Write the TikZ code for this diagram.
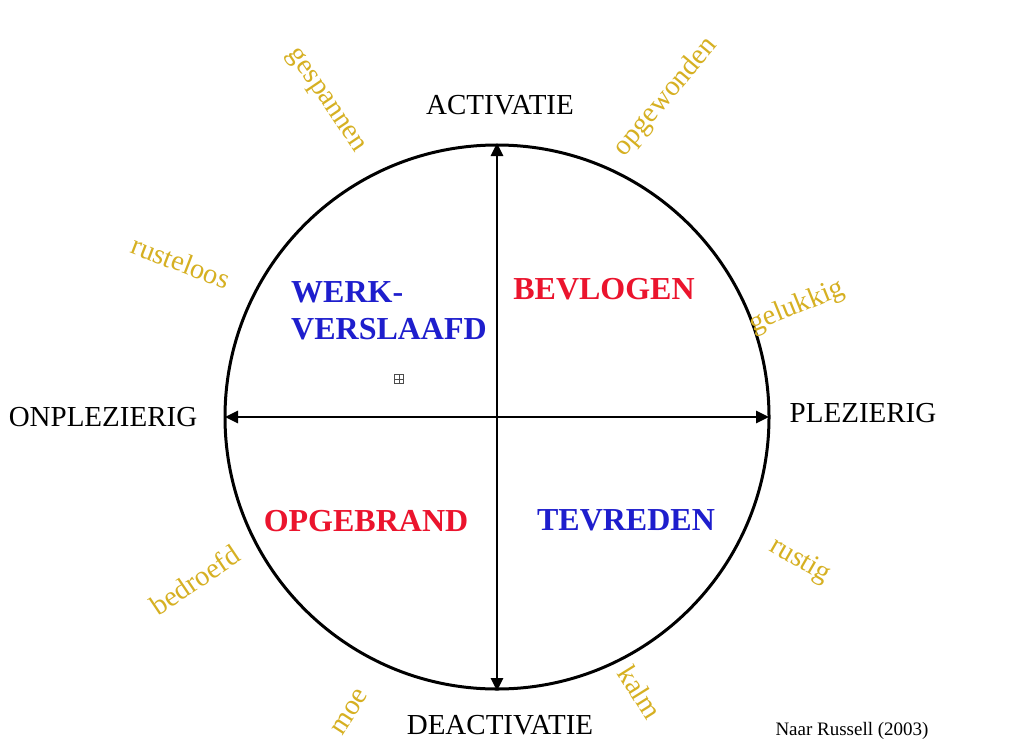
\documentclass[tikz,border=0pt]{standalone}
\usepackage{fontspec}
\setmainfont{Liberation Serif}
\usetikzlibrary{arrows.meta}

\definecolor{quadblue}{RGB}{30,30,205}
\definecolor{quadred}{RGB}{235,20,45}
\definecolor{moodgold}{RGB}{214,176,34}

\tikzset{
  axislabel/.style={font=\fontsize{29}{33}\selectfont, inner sep=0pt},
  quadlabel/.style={font=\fontsize{32}{37}\selectfont\bfseries, inner sep=0pt},
  moodlabel/.style={font=\fontsize{28.5}{32}\selectfont, text=moodgold, inner sep=0pt},
  axisarrow/.style={line width=2.6pt, {Triangle[length=13pt,width=12pt]}-{Triangle[length=13pt,width=12pt]}}
}

\begin{document}
\begin{tikzpicture}[x=1pt, y=-1pt]
\useasboundingbox (0,0) rectangle (1024,747);
\fill[white] (0,0) rectangle (1024,747);

% circle and axes
\coordinate (centre) at (497,417);
\coordinate (top) at (497,143);
\coordinate (bottom) at (497,691);
\coordinate (left) at (225,417);
\coordinate (right) at (769,417);
\draw[line width=3pt] (centre) circle[radius=272];
\draw[axisarrow] (bottom) -- (top);
\draw[axisarrow] (left) -- (right);

% axis labels
\node[axislabel] (activ) at (500,105) {ACTIVATIE};
\node[axislabel] (deactiv) at (500,725) {DEACTIVATIE};
\node[axislabel] (onplez) at (103,417) {ONPLEZIERIG};
\node[axislabel] (plez) at (863,413) {PLEZIERIG};

% quadrants
\node[quadlabel, text=quadblue, align=left, anchor=west] (werk) at (291,311) {WERK-\\VERSLAAFD};
\node[quadlabel, text=quadred] (bevlogen) at (604,289) {BEVLOGEN};
\node[quadlabel, text=quadred] (opgebrand) at (366,521) {OPGEBRAND};
\node[quadlabel, text=quadblue] (tevreden) at (626,520) {TEVREDEN};

% moods round the circle
\node[moodlabel, rotate=-56] (gespannen) at (325,101) {gespannen};
\node[moodlabel, rotate=50] (opgewonden) at (666,97) {opgewonden};
\node[moodlabel, rotate=-21] (rusteloos) at (181,262) {rusteloos};
\node[moodlabel, rotate=22] (gelukkig) at (797,307) {gelukkig};
\node[moodlabel, rotate=34] (bedroefd) at (195,580) {bedroefd};
\node[moodlabel, rotate=-30] (rustig) at (800,561) {rustig};
\node[moodlabel, rotate=57] (moe) at (350,712) {moe};
\node[moodlabel, rotate=-58] (kalm) at (640,692) {kalm};

% source
\node[font=\fontsize{19}{22}\selectfont, inner sep=0pt] (bron) at (852,731) {Naar Russell (2003)};

% small anchor mark
\node[draw=black!70, line width=0.8pt, minimum size=9pt, inner sep=0pt] (mark) at (399,379) {};
\draw[black!70, line width=0.8pt] (mark.north) -- (mark.south) (mark.west) -- (mark.east);
\end{tikzpicture}
\end{document}
